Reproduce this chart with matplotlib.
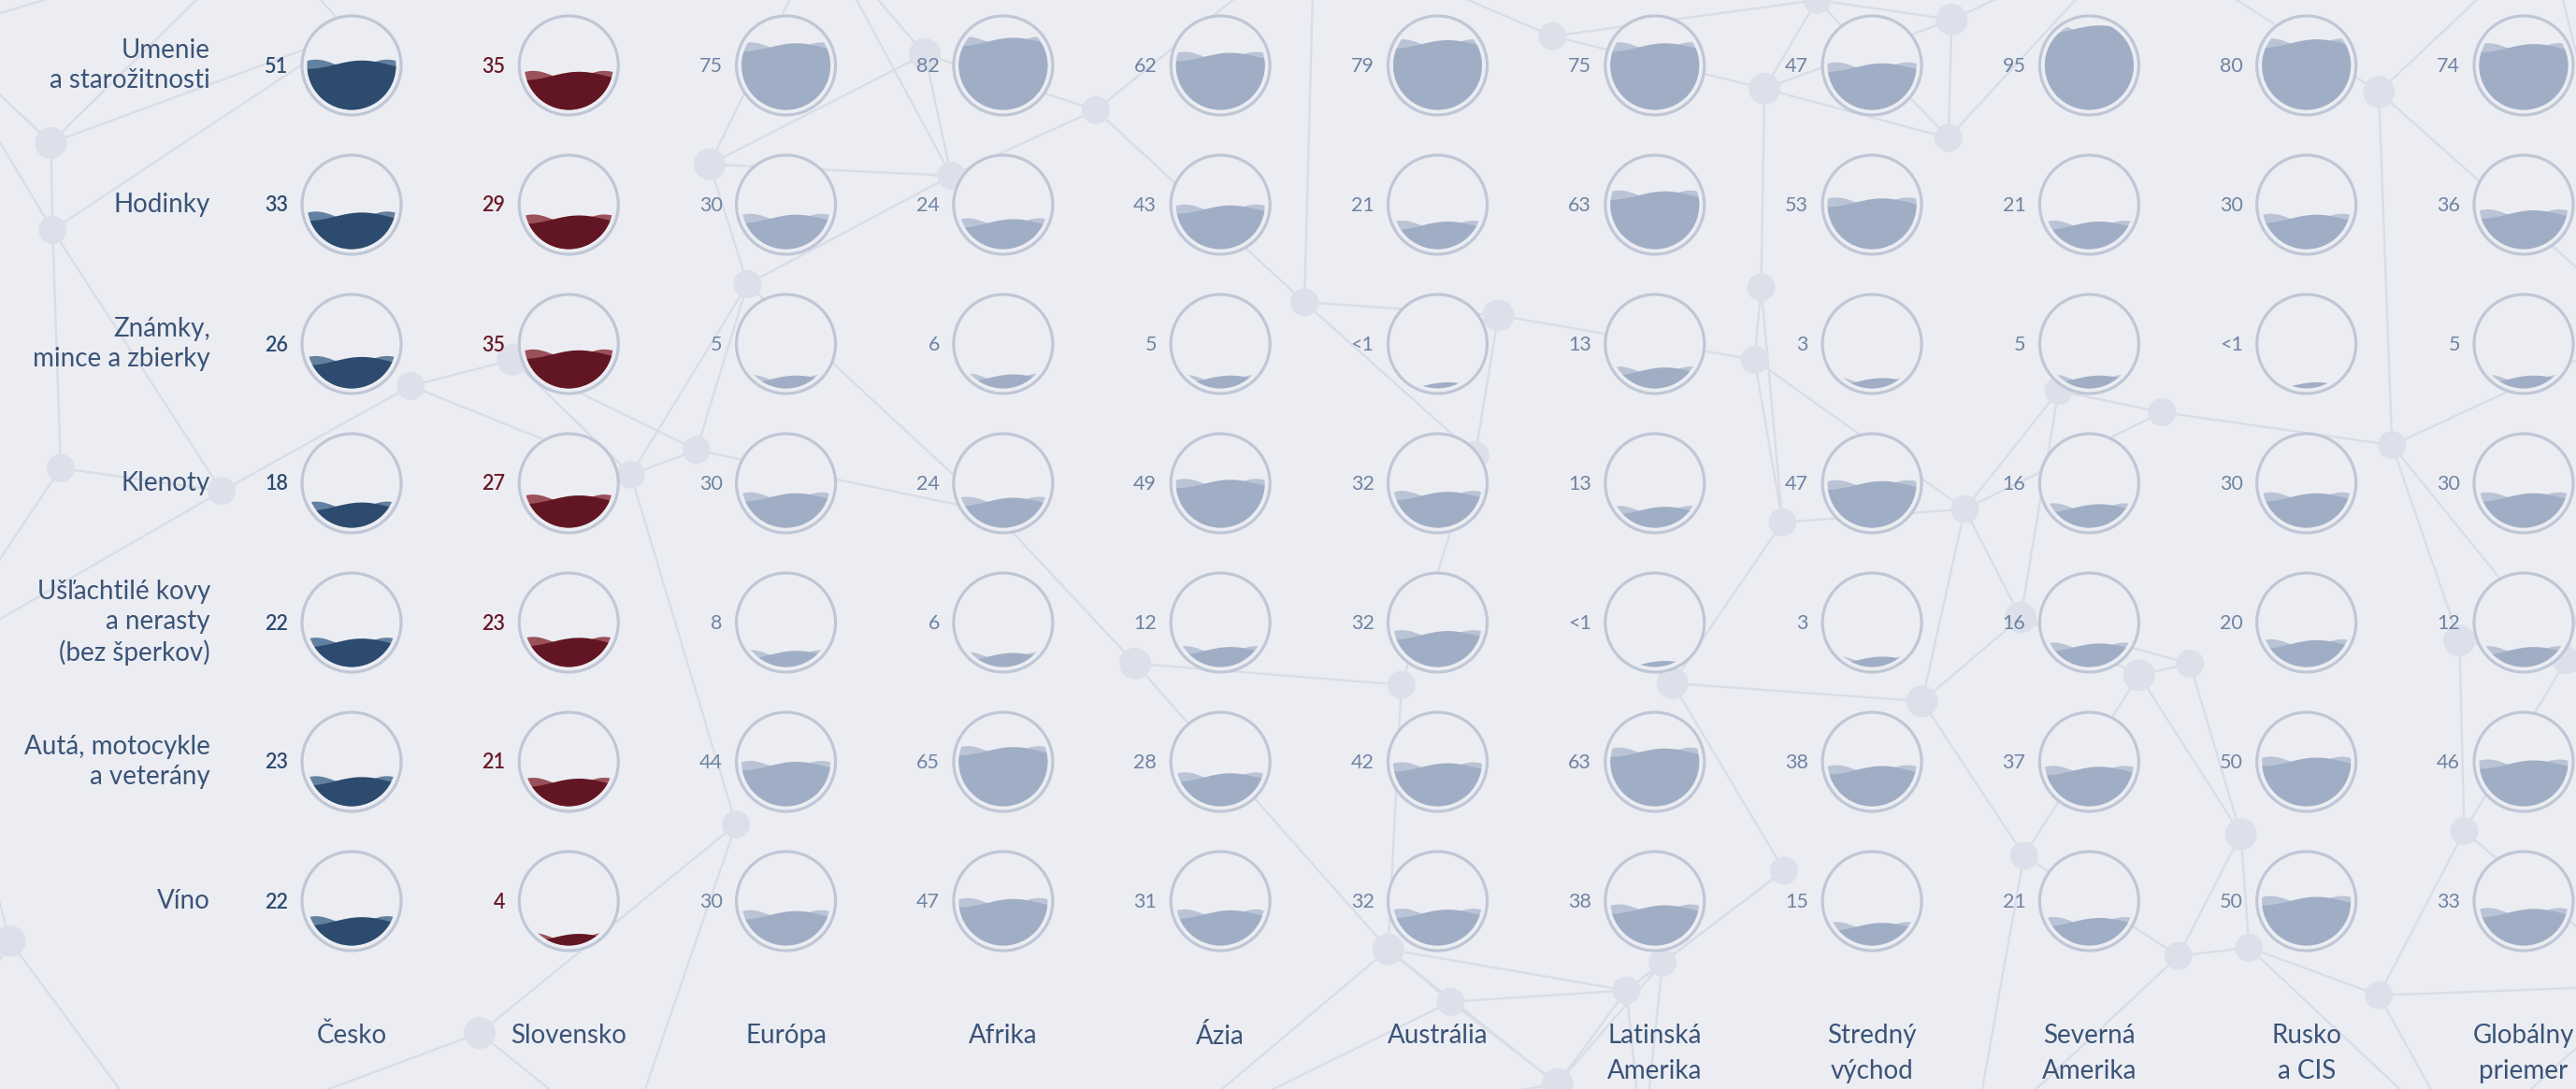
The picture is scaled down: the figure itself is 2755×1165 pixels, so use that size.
import numpy as np
import matplotlib
matplotlib.use("Agg")
import matplotlib.pyplot as plt
from matplotlib.patches import Circle, Polygon

# ---------------- data ----------------
categories = ["Umenie\na starožitnosti", "Hodinky", "Známky,\nmince a zbierky", "Klenoty",
              "Ušľachtilé kovy\na nerasty\n(bez šperkov)", "Autá, motocykle\na veterány", "Víno"]
regions = ["Česko", "Slovensko", "Európa", "Afrika", "Ázia", "Austrália", "Latinská\nAmerika",
           "Stredný\nvýchod", "Severná\nAmerika", "Rusko\na CIS", "Globálny\npriemer"]
# share (%) per category, in the order of `categories`; 0.5 stands for "<1"
cesko      = [51, 33, 26, 18, 22, 23, 22]
slovensko  = [35, 29, 35, 27, 23, 21, 4]
europa     = [75, 30, 5, 30, 8, 44, 30]
afrika     = [82, 24, 6, 24, 6, 65, 47]
azia       = [62, 43, 5, 49, 12, 28, 31]
australia  = [79, 21, 0.5, 32, 32, 42, 32]
lat_amer   = [75, 63, 13, 13, 0.5, 63, 38]
stred_vych = [47, 53, 3, 47, 3, 38, 15]
sev_amer   = [95, 21, 5, 16, 16, 37, 21]
rusko_cis  = [80, 30, 0.5, 30, 20, 50, 50]
globalny   = [74, 36, 5, 30, 12, 46, 33]
values = [cesko, slovensko, europa, afrika, azia, australia, lat_amer,
          stred_vych, sev_amer, rusko_cis, globalny]

# decorative background network (approximate node positions in the picture)
net_nodes = [(31, 87), (32, 140), (37, 285), (6, 573), (135, 299), (250, 235), (312, 219),
             (384, 289), (424, 274), (432, 100), (455, 173), (579, 107), (563, 33), (667, 67),
             (605, 312), (691, 404), (448, 502), (794, 184), (912, 192), (898, 277), (853, 417),
             (845, 578), (883, 610), (990, 603), (948, 660), (1072, 175), (1068, 219), (1074, 54),
             (945, 22), (1085, 318), (1018, 416), (1012, 586), (1086, 530), (1170, 427),
             (1186, 84), (1196, 310), (1230, 376), (1253, 238), (1232, 521), (1302, 411),
             (1316, 251), (1333, 404), (1364, 508), (1369, 577), (1326, 582), (1448, 56),
             (1448, 606), (1456, 271), (1497, 390), (1500, 506), (1562, 402), (292, 629),
             (213, 20), (1106, 0), (1188, 12)]
net_anchors = [(-40, 20), (-40, 400), (100, 700), (380, 700), (700, 700), (1000, 700),
               (1200, 700), (1500, 700), (1610, 200), (1610, 600), (160, -40), (500, -40),
               (800, -40), (1300, -40), (1550, -40), (-40, 660)]

# ---------------- style ----------------
BG = "#ECEDF2"
W, H = 2755, 1165
S = W / 1568.0
col_x0, col_dx = 376, 232.3
row_y0, row_dy = 70, 149
R_OUT, R_IN = 53, 47.5
AMP = 4.5

palettes = {0: ("#2C4B6E", "#62809F", "#2C4B6E"),
            1: ("#621624", "#9A5159", "#6A1A28")}
default_pal = ("#A0AEC5", "#BAC4D6", "#6F84A3")
LABEL_COL = "#3A5478"

plt.rcParams['font.family'] = ['Lato', 'DejaVu Sans']

fig = plt.figure(figsize=(W / 100, H / 100), dpi=100, facecolor=BG)
ax = fig.add_axes([0, 0, 1, 1])
ax.set_xlim(0, W)
ax.set_ylim(H, 0)
ax.set_aspect('equal')
ax.axis('off')
ax.set_facecolor(BG)

# background network
nodes = np.array(net_nodes, float) * S
allpts = np.vstack([nodes, np.array(net_anchors, float) * S])
edges = set()
for i in range(len(allpts)):
    d = np.hypot(*(allpts - allpts[i]).T)
    order = np.argsort(d)[1:4]
    for j in order:
        edges.add(tuple(sorted((i, int(j)))))
for i, j in edges:
    ax.plot([allpts[i, 0], allpts[j, 0]], [allpts[i, 1], allpts[j, 1]],
            color="#DADDE8", lw=1.7, zorder=1, solid_capstyle='round')
for k, (x, y) in enumerate(nodes):
    ax.add_patch(Circle((x, y), 15 if k % 3 else 17, facecolor="#DDE0EA", edgecolor='none', zorder=2))


def fill_height(frac, r):
    target = 2 * np.pi * frac
    lo, hi = 0.0, 2 * np.pi
    for _ in range(60):
        mid = (lo + hi) / 2
        if mid - np.sin(mid) < target:
            lo = mid
        else:
            hi = mid
    th = (lo + hi) / 2
    return r * (1 - np.cos(th / 2))


for ci, (reg, vals) in enumerate(zip(regions, values)):
    cx = col_x0 + ci * col_dx
    dark, light, txt = palettes.get(ci, default_pal)
    for ri, v in enumerate(vals):
        cy = row_y0 + ri * row_dy
        ax.add_patch(Circle((cx, cy), R_OUT, facecolor=BG, edgecolor="#BFC7D7", lw=2.3, zorder=3))
        clip = Circle((cx, cy), R_IN, transform=ax.transData)
        h = fill_height(v / 100.0, R_IN)
        level = cy + R_IN - h
        xs = np.linspace(cx - R_IN - 2, cx + R_IN + 2, 120)
        dx = xs - cx
        y_light = level - AMP * np.cos(2 * np.pi * (dx - 38) / 76.0) - 1
        y_dark = level - AMP * np.cos(2 * np.pi * (dx - 11) / 116.0)
        bottom = cy + R_IN + 10
        for yy, col, z in ((y_light, light, 4), (y_dark, dark, 5)):
            pts = np.column_stack([np.r_[xs, xs[-1], xs[0]], np.r_[yy, bottom, bottom]])
            p = Polygon(pts, closed=True, facecolor=col, edgecolor='none', zorder=z)
            ax.add_patch(p)
            p.set_clip_path(clip)
        lab = "<1" if v < 1 else f"{v:g}"
        ax.text(cx - 68, cy + 1, lab, ha='right', va='center', fontsize=15.5,
                color=txt, fontweight='semibold' if ci < 2 else 'normal', zorder=6)
    ax.text(cx, 1095, reg, ha='center', va='top', fontsize=20, color=LABEL_COL,
            linespacing=1.55, zorder=6)

for ri, cat in enumerate(categories):
    cy = row_y0 + ri * row_dy
    ax.text(225, cy, cat, ha='right', va='center', fontsize=20, color=LABEL_COL,
            linespacing=1.3, zorder=6)

fig.savefig("out.png", dpi=100, facecolor=BG)
